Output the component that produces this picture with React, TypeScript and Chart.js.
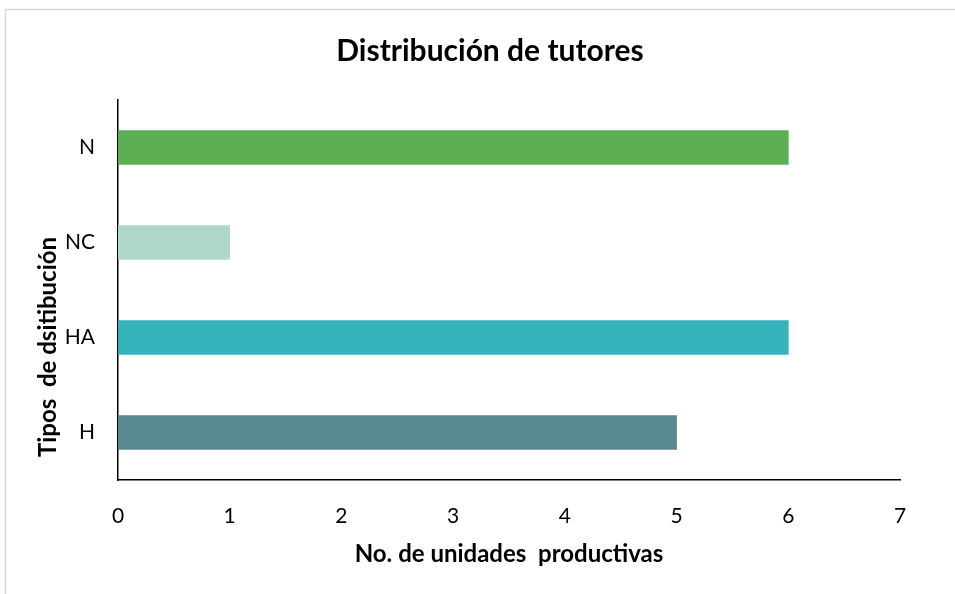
import React, { useEffect, useRef } from "react";
import { Chart, registerables } from "chart.js";

Chart.register(...registerables);

const categories = ["N", "NC", "HA", "H"];
const values = [6, 1, 6, 5];
const barColors = ["#5CAF52", "#ADD8CA", "#35B3BB", "#588891"];
const xTicks = [0, 1, 2, 3, 4, 5, 6, 7];
const chartTitle = "Distribución de tutores";
const xTitle = "No. de unidades  productivas";
const yTitle = "Tipos  de dsitibución";

const FONT = "Lato, 'Liberation Sans', sans-serif";

const framePlugin = {
  id: "frame",
  beforeDraw(chart: any) {
    const ctx = chart.ctx;
    ctx.save();
    ctx.fillStyle = "#ffffff";
    ctx.fillRect(0, 0, chart.width, chart.height);
    ctx.strokeStyle = "#d9d9d9";
    ctx.lineWidth = 1.5;
    ctx.beginPath();
    ctx.moveTo(5.5, chart.height);
    ctx.lineTo(5.5, 9.5);
    ctx.lineTo(chart.width, 9.5);
    ctx.stroke();
    ctx.restore();
  },
  afterDraw(chart: any) {
    const ctx = chart.ctx;
    ctx.save();
    ctx.fillStyle = "#000000";
    ctx.textAlign = "center";
    ctx.textBaseline = "middle";
    ctx.font = `bold 30px ${FONT}`;
    ctx.fillText(chartTitle, 490, 51);
    ctx.translate(48, 347);
    ctx.rotate(-Math.PI / 2);
    ctx.font = `bold 24px ${FONT}`;
    ctx.fillText(yTitle, 0, 0);
    ctx.restore();
  },
};

export default function App() {
  const ref = useRef<HTMLCanvasElement | null>(null);
  useEffect(() => {
    document.body.style.margin = "0";
    if (!ref.current) return;
    const chart = new Chart(ref.current, {
      type: "bar",
      data: {
        labels: categories,
        datasets: [
          {
            data: values,
            backgroundColor: barColors,
            borderWidth: 0,
            barThickness: 34,
          },
        ],
      },
      plugins: [framePlugin],
      options: {
        indexAxis: "y",
        responsive: false,
        animation: false,
        devicePixelRatio: 1,
        layout: { padding: { left: 0, right: 55, top: 100, bottom: 0 } },
        plugins: {
          legend: { display: false },
          tooltip: { enabled: false },
          title: { display: false },
        },
        scales: {
          x: {
            min: 0,
            max: 7,
            afterBuildTicks(scale: any) {
              scale.ticks = xTicks.map((v) => ({ value: v }));
            },
            afterFit(scale: any) {
              scale.height = 114;
            },
            grid: { display: false, drawTicks: false },
            border: { display: true, color: "#000000", width: 1.5 },
            ticks: {
              color: "#000000",
              padding: 24,
              font: { family: FONT, size: 21 },
            },
            title: {
              display: true,
              text: xTitle,
              color: "#000000",
              font: { family: FONT, size: 24, weight: "bold", lineHeight: 1.2 },
              padding: { top: 0, bottom: 25 },
            },
          },
          y: {
            afterFit(scale: any) {
              scale.width = 118;
            },
            grid: { display: false, drawTicks: false },
            border: { display: true, color: "#000000", width: 1.5 },
            ticks: {
              color: "#000000",
              padding: 23,
              font: { family: FONT, size: 21 },
            },
          },
        },
      },
    });
    return () => chart.destroy();
  }, []);
  return (
    <div style={{ width: 955, height: 594 }}>
      <canvas ref={ref} width={955} height={594} style={{ display: "block" }} />
    </div>
  );
}
